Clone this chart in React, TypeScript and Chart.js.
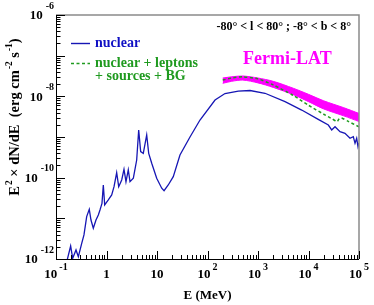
import React, { useEffect, useRef } from 'react';
import { Chart, registerables } from 'chart.js';

Chart.register(...registerables);

// ---- Data (E in MeV, E^2 dN/dE in erg cm^-2 s^-1) ----
const nuclearE = [0.163, 0.195, 0.214, 0.249, 0.277, 0.323, 0.358, 0.405, 0.456, 0.493, 0.548, 0.619, 0.689, 0.743, 0.814, 0.865, 0.921, 1.086, 1.268, 1.409, 1.59, 1.745, 2.0, 2.22, 2.43, 2.70, 2.92, 3.40, 3.96, 4.34, 4.75, 5.35, 6.25, 6.85, 7.86, 9.86, 12.4, 13.8, 16.7, 21.0, 28.5, 45, 71, 141, 222, 407, 695, 1376, 3430, 7330, 15600, 24700, 28800, 33500, 42100, 52800, 66400, 77100, 83400, 90000, 95500, 100000];
const nuclearFlux = [8.5e-13, 2.09e-12, 1.04e-12, 1.67e-12, 1.14e-12, 2.43e-12, 3.9e-12, 1.1e-11, 1.67e-11, 9.1e-12, 5.7e-12, 9.1e-12, 1.21e-11, 1.6e-11, 2.34e-11, 6.6e-11, 2.13e-11, 2.83e-11, 3.75e-11, 6.0e-11, 1.32e-10, 6.0e-11, 8.8e-11, 1.61e-10, 7.96e-11, 1.55e-10, 7.96e-11, 9.7e-11, 2.72e-10, 1.49e-9, 4.36e-10, 3.97e-10, 1.12e-9, 3.97e-10, 2.26e-10, 9.7e-11, 5.5e-11, 4.79e-11, 6.6e-11, 1.06e-10, 3.61e-10, 1.0e-9, 2.62e-9, 8.1e-9, 1.17e-8, 1.35e-8, 1.39e-8, 1.19e-8, 7.4e-9, 4.6e-9, 2.72e-9, 1.97e-9, 1.49e-9, 1.79e-9, 1.35e-9, 1.23e-9, 9.3e-10, 1.02e-9, 7.0e-10, 9.3e-10, 5.8e-10, 7.1e-10];

const totalE = [200, 300, 500, 1000, 2000, 5000, 10000, 20000, 30000, 37000, 40000, 45000, 60000, 100000];
const totalFlux = [2.51e-8, 2.82e-8, 3.02e-8, 2.69e-8, 1.91e-8, 1.05e-8, 6.03e-9, 3.63e-9, 2.75e-9, 2.40e-9, 2.75e-9, 2.95e-9, 2.45e-9, 1.78e-9];

const fermiE = [200, 300, 500, 1000, 2000, 5000, 10000, 20000, 50000, 100000];
const fermiUpper = [2.82e-8, 3.02e-8, 3.16e-8, 2.82e-8, 2.34e-8, 1.58e-8, 1.12e-8, 7.76e-9, 5.25e-9, 3.80e-9];
const fermiLower = [2.09e-8, 2.34e-8, 2.51e-8, 2.14e-8, 1.66e-8, 1.10e-8, 7.41e-9, 4.90e-9, 3.31e-9, 2.40e-9];

const xTickValues = [0.1, 1, 10, 100, 1000, 10000, 100000];
const xTickBases = ['10', '1', '10', '10', '10', '10', '10'];
const xTickExps = ['-1', '', '', '2', '3', '4', '5'];

const yTickValues = [1e-12, 1e-10, 1e-8, 1e-6];
const yTickBases = ['10', '10', '10', '10'];
const yTickExps = ['-12', '-10', '-8', '-6'];

const seriesLabels = ['nuclear', 'nuclear + leptons', '+ sources + BG', 'Fermi-LAT'];
const regionLabel = '-80° < l < 80° ; -8° < b < 8°';
const xTitle = 'E (MeV)';

const BLUE = '#1616b4';
const BLUE_TXT = '#1010c4';
const GREEN = '#1f9a1f';
const MAGENTA = '#ff00ff';
const SERIF = "'Liberation Serif', 'DejaVu Serif', serif";

type Run = [string, boolean];

function runsWidth(ctx: CanvasRenderingContext2D, runs: Run[], size: number) {
  let w = 0;
  for (const [t, sup] of runs) {
    ctx.font = `bold ${sup ? size * 0.65 : size}px ${SERIF}`;
    w += ctx.measureText(t).width + (sup ? 1 : 0);
  }
  return w;
}

function drawRuns(ctx: CanvasRenderingContext2D, runs: Run[], x: number, y: number, size: number) {
  let cx = x;
  ctx.textAlign = 'left';
  ctx.textBaseline = 'alphabetic';
  for (const [t, sup] of runs) {
    ctx.font = `bold ${sup ? size * 0.65 : size}px ${SERIF}`;
    ctx.fillText(t, cx + (sup ? 1 : 0), sup ? y - size * 0.45 : y);
    cx += ctx.measureText(t).width + (sup ? 1 : 0);
  }
}

const decorPlugin = {
  id: 'decor',
  afterDraw(chart: any) {
    const ctx: CanvasRenderingContext2D = chart.ctx;
    const xs = chart.scales.x;
    const ys = chart.scales.y;
    const a = chart.chartArea;
    ctx.save();

    // frame
    ctx.strokeStyle = '#8a8a8a';
    ctx.lineWidth = 1.5;
    ctx.beginPath();
    ctx.moveTo(a.left, a.top);
    ctx.lineTo(a.right, a.top);
    ctx.lineTo(a.right, a.bottom);
    ctx.stroke();
    ctx.strokeStyle = '#000';
    ctx.lineWidth = 1;
    ctx.beginPath();
    ctx.moveTo(a.left + 0.5, a.top);
    ctx.lineTo(a.left + 0.5, a.bottom + 0.5);
    ctx.lineTo(a.right, a.bottom + 0.5);
    ctx.stroke();

    // x ticks (inside)
    ctx.beginPath();
    for (let d = -1; d <= 5; d++) {
      for (let m = 1; m <= 9; m++) {
        const v = m * Math.pow(10, d);
        if (v > 1e5 * 1.0001) break;
        const px = Math.round(xs.getPixelForValue(v)) + 0.5;
        const len = m === 1 ? 8 : 4;
        ctx.moveTo(px, a.bottom);
        ctx.lineTo(px, a.bottom - len);
      }
    }
    // y ticks (inside)
    for (let d = -12; d <= -6; d++) {
      for (let m = 1; m <= 9; m++) {
        const v = m * Math.pow(10, d);
        if (v > 1e-6 * 1.0001) break;
        const py = Math.round(ys.getPixelForValue(v)) + 0.5;
        const len = m === 1 ? 9 : 4.5;
        ctx.moveTo(a.left, py);
        ctx.lineTo(a.left + len, py);
      }
    }
    ctx.stroke();

    // tick labels
    ctx.fillStyle = '#000';
    const bs = 13;
    const es = 10;
    xTickValues.forEach((v, i) => {
      const px = xs.getPixelForValue(v);
      ctx.font = `bold ${bs}px ${SERIF}`;
      const wb = ctx.measureText(xTickBases[i]).width;
      ctx.font = `bold ${es}px ${SERIF}`;
      const we = xTickExps[i] ? ctx.measureText(xTickExps[i]).width + 2 : 0;
      const start = px - (wb + we) / 2;
      ctx.textBaseline = 'middle';
      ctx.textAlign = 'left';
      ctx.font = `bold ${bs}px ${SERIF}`;
      ctx.fillText(xTickBases[i], start, a.bottom + 16);
      if (xTickExps[i]) {
        ctx.font = `bold ${es}px ${SERIF}`;
        ctx.fillText(xTickExps[i], start + wb + 2, a.bottom + 8);
      }
    });
    yTickValues.forEach((v, i) => {
      const py = ys.getPixelForValue(v);
      ctx.textBaseline = 'middle';
      ctx.textAlign = 'right';
      ctx.font = `bold ${es}px ${SERIF}`;
      const we = ctx.measureText(yTickExps[i]).width;
      const expRight = a.left - 2;
      ctx.fillText(yTickExps[i], expRight, py - 9);
      ctx.font = `bold ${bs}px ${SERIF}`;
      ctx.fillText(yTickBases[i], expRight - we - 3, py + 1);
    });

    // axis titles
    ctx.font = `bold 13px ${SERIF}`;
    ctx.textAlign = 'center';
    ctx.textBaseline = 'middle';
    ctx.fillText(xTitle, (a.left + a.right) / 2, 296);

    const yRuns: Run[] = [['E', false], ['2', true], [' × dN/dE  (erg cm', false], ['-2', true], [' s', false], ['-1', true], [')', false]];
    const ts = 14.5;
    const tw = runsWidth(ctx, yRuns, ts);
    ctx.save();
    ctx.translate(18.5, 117 + tw / 2);
    ctx.rotate(-Math.PI / 2);
    drawRuns(ctx, yRuns, 0, 0, ts);
    ctx.restore();

    // legend
    ctx.lineWidth = 1.4;
    ctx.strokeStyle = BLUE;
    ctx.setLineDash([]);
    ctx.beginPath();
    ctx.moveTo(71, 43.5);
    ctx.lineTo(90, 43.5);
    ctx.stroke();
    ctx.strokeStyle = GREEN;
    ctx.setLineDash([3, 2.5]);
    ctx.beginPath();
    ctx.moveTo(71, 63.5);
    ctx.lineTo(90, 63.5);
    ctx.stroke();
    ctx.setLineDash([]);

    ctx.font = `bold 14px ${SERIF}`;
    ctx.textAlign = 'left';
    ctx.textBaseline = 'middle';
    ctx.fillStyle = BLUE_TXT;
    ctx.fillText(seriesLabels[0], 95, 43);
    ctx.fillStyle = GREEN;
    ctx.fillText(seriesLabels[1], 95, 63);
    ctx.fillText(seriesLabels[2], 95, 76);
    ctx.fillStyle = MAGENTA;
    ctx.font = `bold 18px ${SERIF}`;
    ctx.fillText(seriesLabels[3], 243, 59);

    ctx.fillStyle = '#000';
    ctx.font = `bold 12px ${SERIF}`;
    ctx.textAlign = 'right';
    ctx.fillText(regionLabel, 351, 27);

    ctx.restore();
  },
};

export default function App() {
  const ref = useRef<HTMLCanvasElement | null>(null);
  useEffect(() => {
    if (!ref.current) return;
    const chart = new Chart(ref.current, {
      type: 'line',
      data: {
        datasets: [
          {
            label: 'Fermi upper',
            data: fermiE.map((e, i) => ({ x: e, y: fermiUpper[i] })),
            borderColor: MAGENTA,
            borderWidth: 1,
            backgroundColor: MAGENTA,
            pointRadius: 0,
            fill: false,
            tension: 0.3,
            order: 5,
          },
          {
            label: 'Fermi lower',
            data: fermiE.map((e, i) => ({ x: e, y: fermiLower[i] })),
            borderColor: MAGENTA,
            borderWidth: 1,
            backgroundColor: MAGENTA,
            pointRadius: 0,
            fill: '-1',
            tension: 0.3,
            order: 4,
          },
          {
            label: seriesLabels[1],
            data: totalE.map((e, i) => ({ x: e, y: totalFlux[i] })),
            borderColor: GREEN,
            borderWidth: 1.5,
            borderDash: [3, 2.5],
            pointRadius: 0,
            fill: false,
            tension: 0.2,
            order: 1,
          },
          {
            label: seriesLabels[0],
            data: nuclearE.map((e, i) => ({ x: e, y: nuclearFlux[i] })),
            borderColor: BLUE,
            borderWidth: 1.3,
            pointRadius: 0,
            fill: false,
            tension: 0,
            order: 0,
          },
        ],
      },
      options: {
        animation: false,
        responsive: false,
        devicePixelRatio: 1,
        layout: { padding: { left: 56, right: 15, top: 15, bottom: 46 } },
        plugins: { legend: { display: false }, tooltip: { enabled: false } },
        scales: {
          x: { type: 'logarithmic', min: 0.1, max: 1e5, display: false },
          y: { type: 'logarithmic', min: 1e-12, max: 1e-6, display: false },
        },
      },
      plugins: [decorPlugin],
    });
    return () => chart.destroy();
  }, []);
  return (
    <div style={{ position: 'fixed', left: 0, top: 0, width: 374, height: 305, background: '#fff' }}>
      <canvas ref={ref} width={374} height={305} style={{ width: 374, height: 305, display: 'block' }} />
    </div>
  );
}
